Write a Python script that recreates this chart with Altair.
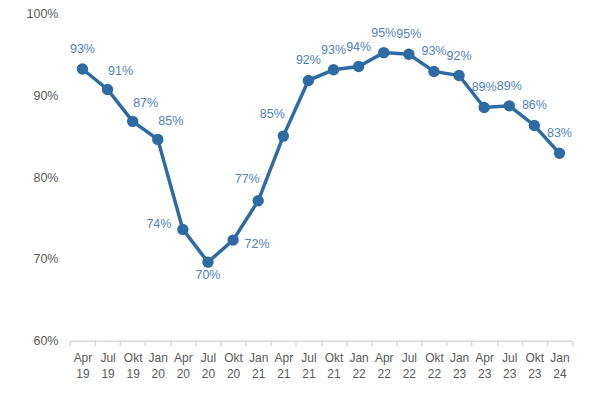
import altair as alt
import pandas as pd

periods = ["Apr 19", "Jul 19", "Okt 19", "Jan 20", "Apr 20", "Jul 20", "Okt 20",
           "Jan 21", "Apr 21", "Jul 21", "Okt 21", "Jan 22", "Apr 22", "Jul 22",
           "Okt 22", "Jan 23", "Apr 23", "Jul 23", "Okt 23", "Jan 24"]
values = [93.2, 90.7, 86.8, 84.6, 73.6, 69.6, 72.3, 77.1, 85.0, 91.8,
          93.1, 93.5, 95.2, 95.0, 92.9, 92.4, 88.5, 88.7, 86.3, 82.9]
labels = ["93%", "91%", "87%", "85%", "74%", "70%", "72%", "77%", "85%", "92%",
          "93%", "94%", "95%", "95%", "93%", "92%", "89%", "89%", "86%", "83%"]

above_right = ["Jul 19", "Okt 19", "Jan 20"]
left_side = ["Apr 20"]
below = ["Jul 20"]
right_side = ["Okt 20"]
above_left = ["Jan 21", "Apr 21"]

df = pd.DataFrame({"period": periods, "value": values, "label": labels})

FONT = "Liberation Sans"
LINE = "#2F6BA3"
LABEL = "#4F81BD"

x = alt.X("period:N", sort=periods, title=None,
          scale=alt.Scale(paddingInner=0, paddingOuter=0),
          axis=alt.Axis(labelAngle=0,
                        labelExpr="datum.value ? split(datum.value, ' ') : ''",
                        labelLineHeight=16, labelFontSize=12, labelColor="#595959",
                        labelFont=FONT, domainColor="#D9D9D9", tickColor="#D9D9D9",
                        tickSize=5, tickBand="extent", labelPadding=7,
                        domainWidth=1.5, tickWidth=1.5))
y = alt.Y("value:Q", title=None,
          scale=alt.Scale(domain=[60, 100], nice=False, zero=False),
          axis=alt.Axis(values=[60, 70, 80, 90, 100], labelExpr="datum.value + '%'",
                        labelFontSize=12.5, labelColor="#595959", labelFont=FONT,
                        domain=False, ticks=False, grid=False, labelPadding=12))

base = alt.Chart(df).encode(x=x, y=y)

line = base.mark_line(color=LINE, strokeWidth=3.5)
pts = base.mark_circle(color=LINE, size=130, opacity=1)

others = above_right + left_side + below + right_side + above_left


def txt(sel, dx, dy, align="center", exclude=False):
    c = base.mark_text(color=LABEL, font=FONT, fontSize=12.5, dx=dx, dy=dy, align=align)
    if exclude:
        c = c.transform_filter(~alt.FieldOneOfPredicate(field="period", oneOf=sel))
    else:
        c = c.transform_filter(alt.FieldOneOfPredicate(field="period", oneOf=sel))
    return c.encode(text="label:N")


t_above = txt(others, 0, -20, exclude=True)
t_ar = txt(above_right, 13, -18)
t_l = txt(left_side, -24, -5)
t_b = txt(below, 0, 13)
t_r = txt(right_side, 24, 4)
t_al = txt(above_left, -11, -22)

chart = alt.layer(line, pts, t_above, t_ar, t_l, t_b, t_r, t_al).properties(
    width=503, height=328,
    autosize=alt.AutoSizeParams(type="none"),
    padding={"left": 62, "top": 5, "right": 20, "bottom": 50},
    background="white",
).configure_view(stroke=None)

chart.save("out.html", embed_options={"renderer": "svg", "actions": False})
